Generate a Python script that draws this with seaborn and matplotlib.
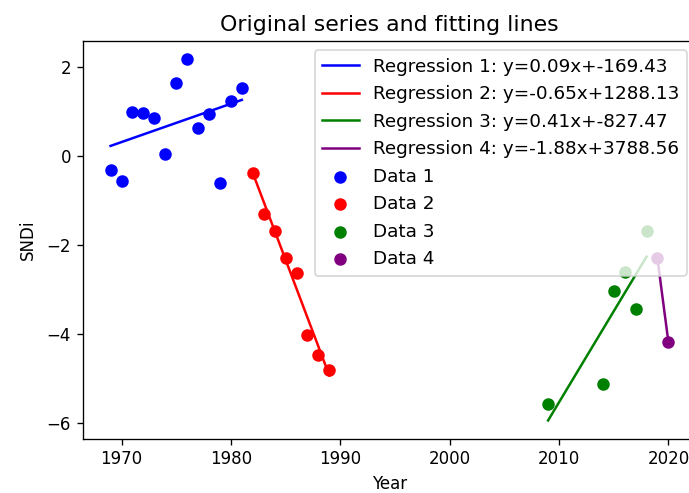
import numpy as np
import matplotlib
matplotlib.use("Agg")
import matplotlib.pyplot as plt
import seaborn as sns

# Observed SNDi values, split into four periods
years_1 = [1969, 1970, 1971, 1972, 1973, 1974, 1975, 1976, 1977, 1978, 1979, 1980, 1981]
sndi_1 = [-0.33, -0.58, 0.99, 0.95, 0.85, 0.03, 1.64, 2.17, 0.62, 0.94, -0.62, 1.23, 1.51]

years_2 = [1982, 1983, 1984, 1985, 1986, 1987, 1988, 1989]
sndi_2 = [-0.38, -1.32, -1.69, -2.31, -2.64, -4.03, -4.48, -4.81]

years_3 = [2009, 2014, 2015, 2016, 2017, 2018]
sndi_3 = [-5.59, -5.14, -3.04, -2.62, -3.45, -1.69]

years_4 = [2019, 2020]
sndi_4 = [-2.31, -4.19]

# Fitted linear trend for each period: y = slope * x + intercept
slopes = [0.08616, -0.65011, 0.40892, -1.87760]
intercepts = [-169.43, 1288.13, -827.47, 3788.56]

colors = ["blue", "red", "green", "purple"]

fig = plt.figure(figsize=(689 / 120, 493 / 120), dpi=120)
ax = fig.add_axes([0.1200, 0.1105, 0.8906, 0.8063])

groups = [(years_1, sndi_1), (years_2, sndi_2), (years_3, sndi_3), (years_4, sndi_4)]

# trend lines
for i, ((xs, ys), m, b, c) in enumerate(zip(groups, slopes, intercepts, colors), start=1):
    x_fit = np.array([min(xs), max(xs)], dtype=float)
    sns.lineplot(x=x_fit, y=m * x_fit + b, color=c, linewidth=1.5,
                 label=f"Regression {i}: y={m:.2f}x+{b:.2f}", ax=ax)

# observed points
for i, ((xs, ys), c) in enumerate(zip(groups, colors), start=1):
    sns.scatterplot(x=xs, y=ys, color=c, s=36, edgecolor=c, linewidth=1.5,
                    label=f"Data {i}", ax=ax, zorder=1)

ax.set_title("Original series and fitting lines", fontsize=13.2)
ax.set_xlabel("Year")
ax.set_ylabel("SNDi", labelpad=6)
ax.set_yticks([-6, -4, -2, 0, 2])
ax.margins(0.05)
ax.legend(loc="upper right", fontsize=11, labelspacing=0.52)

fig.savefig("out.png", dpi=120)
